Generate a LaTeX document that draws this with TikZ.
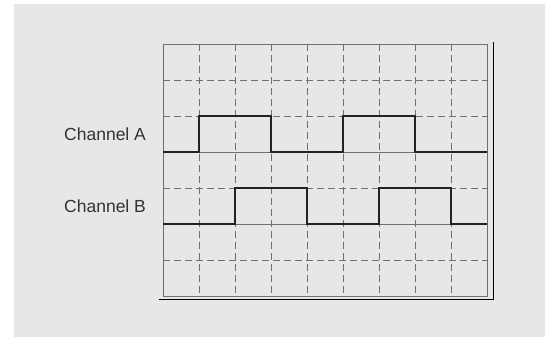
\documentclass[tikz,border=0pt]{standalone}
\usepackage{fontspec}
\setmainfont{Liberation Sans}
\definecolor{bg}{HTML}{E6E7E8}
\definecolor{gridc}{HTML}{707070}
\definecolor{sig}{HTML}{222222}
\definecolor{txt}{HTML}{333333}
\tikzset{
  gridline/.style={draw=gridc, line width=0.9pt},
  dashline/.style={draw=gridc, line width=0.9pt, dash pattern=on 7pt off 4pt},
  signal/.style={draw=sig, line width=2pt, line join=miter},
  frameline/.style={draw=black, line width=1pt},
  lbl/.style={anchor=west, inner sep=0pt, text=txt, font=\fontsize{17.5}{20}\selectfont}
}
\begin{document}
\begin{tikzpicture}[x=1pt,y=-1pt]
\useasboundingbox (0,0) rectangle (545,337);
\fill[bg] (14,4) rectangle (545,337);
% outer offset frame
\draw[frameline] (493.3,41.7) -- (493.3,299.3) -- (159,299.3);
% dashed interior lines
\foreach \i in {1,...,8} {
  \draw[dashline] (163.3+36*\i,44) -- (163.3+36*\i,296);
}
\foreach \y in {80,116,188,260} {
  \draw[dashline] (163.3,\y) -- (487.3,\y);
}
% solid baselines
\draw[gridline] (163.3,152) -- (487.3,152);
\draw[gridline] (163.3,224) -- (487.3,224);
% grid border
\draw[gridline] (163.3,44) rectangle (487.3,296);
% signals
\draw[signal] (163.3,152) -- (199.3,152) -- (199.3,116) -- (271.3,116) -- (271.3,152)
  -- (343.3,152) -- (343.3,116) -- (415.3,116) -- (415.3,152) -- (487.3,152);
\draw[signal] (163.3,224) -- (235.3,224) -- (235.3,188) -- (307.3,188) -- (307.3,224)
  -- (379.3,224) -- (379.3,188) -- (451.3,188) -- (451.3,224) -- (487.3,224);
% labels
\node[lbl] (chA) at (64,134) {Channel A};
\node[lbl] (chB) at (64,206) {Channel B};
\end{tikzpicture}
\end{document}
